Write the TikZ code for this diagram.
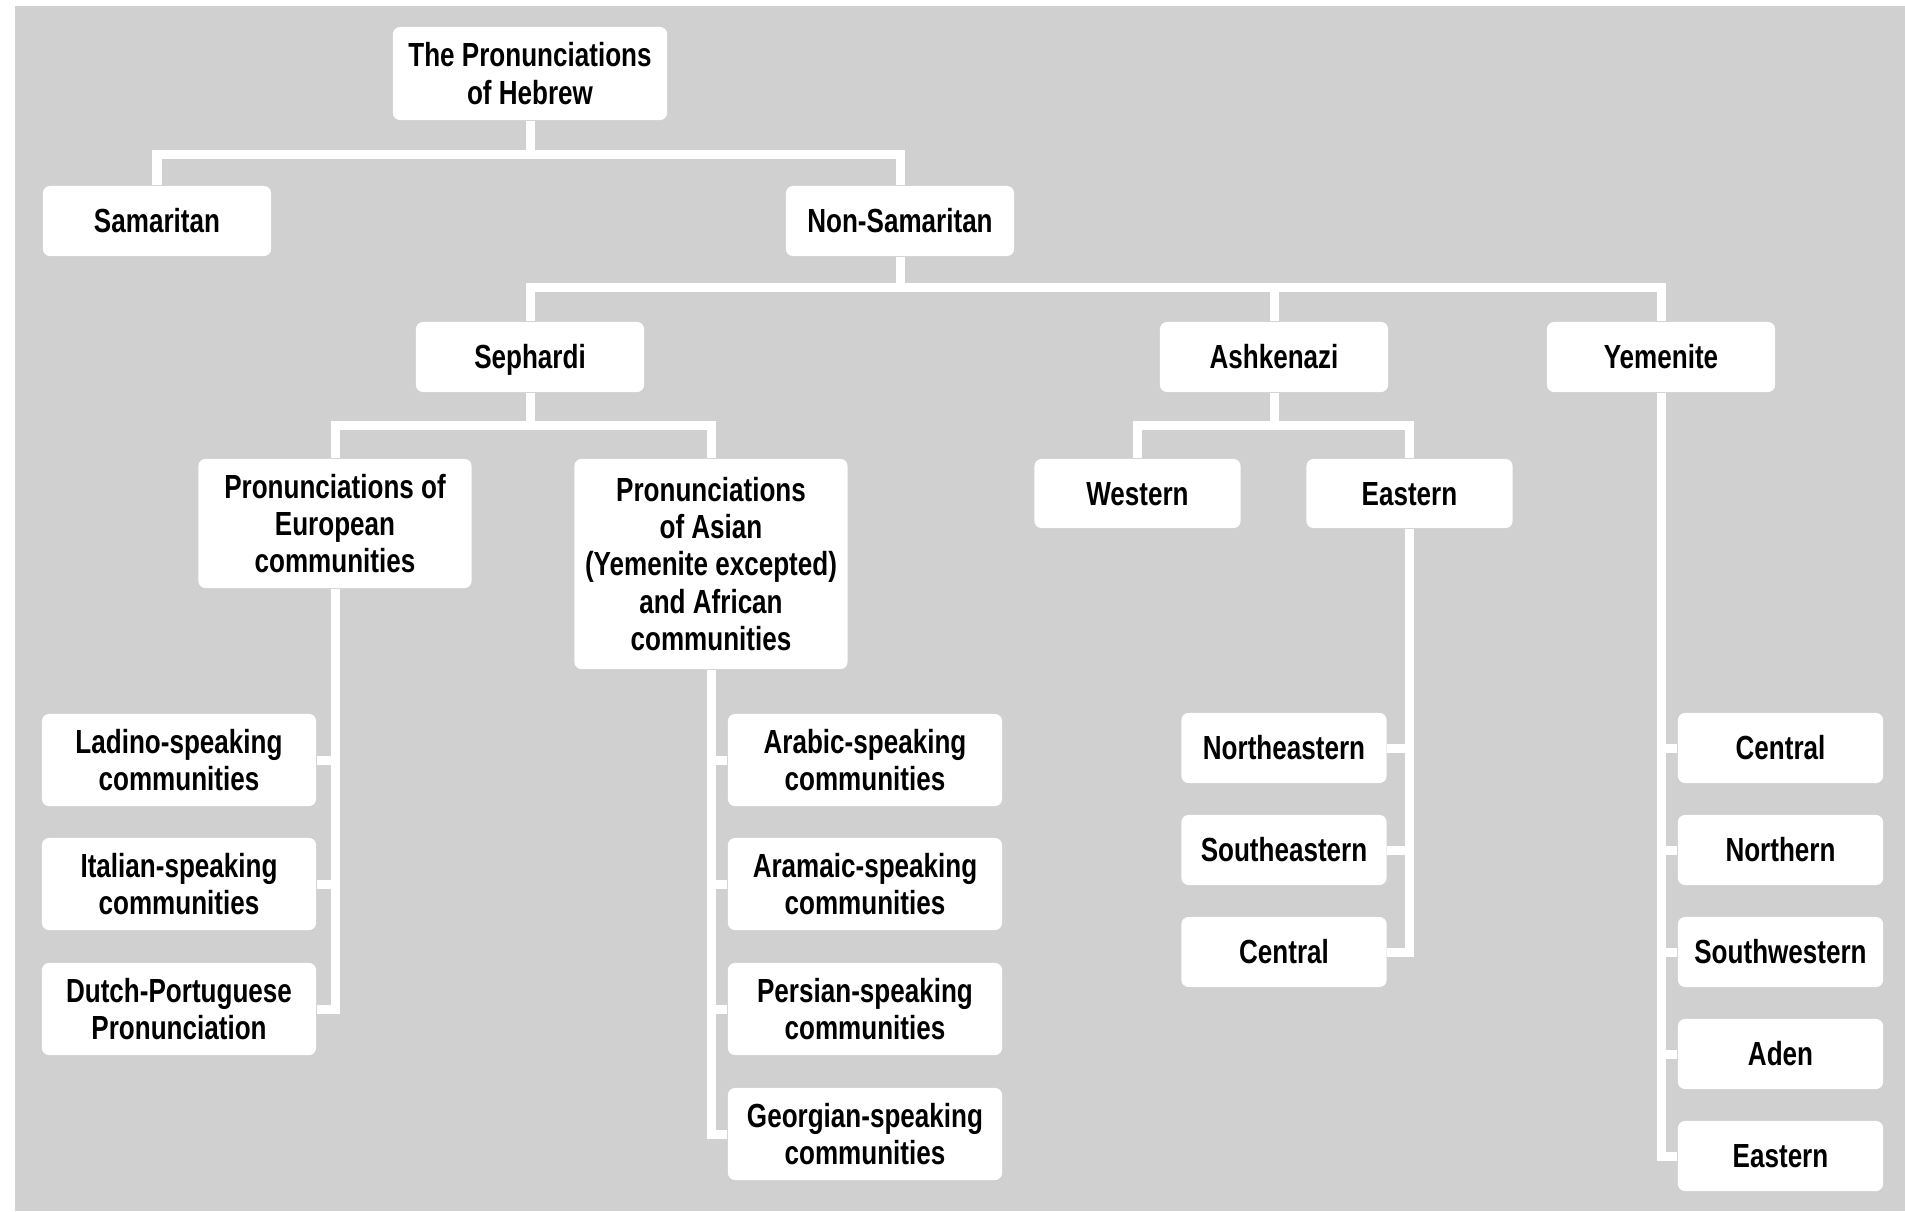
\documentclass[tikz,border=0pt]{standalone}
\usepackage{fontspec}
\setmainfont[FakeStretch=0.78]{Liberation Sans}
\usetikzlibrary{arrows,shapes,calc,positioning}
\definecolor{bggray}{HTML}{D0D0D0}

\begin{document}
\begin{tikzpicture}[x=0.01cm,y=-0.01cm]
		\tikzset{
			box/.style={fill=white, rounded corners=0.07cm, align=center, inner sep=0pt,
				font=\fontsize{9.5}{10.6}\selectfont\bfseries},
			one/.style={text height=6.8pt, text depth=0pt},
			top/.style={box, minimum width=2.74cm, minimum height=0.93cm},
			lvl/.style={box, one, minimum width=2.28cm, minimum height=0.70cm},
			grp/.style={box, minimum width=2.73cm},
			sub/.style={box, one, minimum width=2.06cm, minimum height=0.69cm},
			leaf/.style={box, minimum width=2.74cm, minimum height=0.92cm},
			small/.style={box, one, minimum width=2.05cm, minimum height=0.70cm},
			link/.style={draw=white, line width=0.09cm},
		}
		\useasboundingbox (0,0) rectangle (1905,1211);
		\fill [bggray] (15,6) rectangle (1905,1211);
		% levels
		\node [top] (root) at (530,73.5) {The Pronunciations\\of Hebrew};
		\node [lvl] (sam) at (157,221) {Samaritan};
		\node [lvl] (nonsam) at (900,221) {Non-Samaritan};
		\node [lvl] (seph) at (530,357) {Sephardi};
		\node [lvl] (ashk) at (1274,357) {Ashkenazi};
		\node [lvl] (yem) at (1661,357) {Yemenite};
		\node [grp, minimum height=1.29cm] (euro) at (335,523.5) {Pronunciations of\\European\\communities};
		\node [grp, minimum height=2.10cm] (asian) at (711,564) {Pronunciations\\of Asian\\(Yemenite excepted)\\and African\\communities};
		\node [sub] (west) at (1137.5,493.5) {Western};
		\node [sub] (east) at (1409.5,493.5) {Eastern};
		% leaves
		\node [leaf] (lad) at (179,760) {Ladino-speaking\\communities};
		\node [leaf] (ita) at (179,884) {Italian-speaking\\communities};
		\node [leaf] (dut) at (179,1009) {Dutch-Portuguese\\Pronunciation};
		\node [leaf] (arab) at (865,760) {Arabic-speaking\\communities};
		\node [leaf] (aram) at (865,884) {Aramaic-speaking\\communities};
		\node [leaf] (pers) at (865,1009) {Persian-speaking\\communities};
		\node [leaf] (geor) at (865,1134) {Georgian-speaking\\communities};
		\node [small] (ne) at (1284,748) {Northeastern};
		\node [small] (se) at (1284,850) {Southeastern};
		\node [small] (ce) at (1284,952) {Central};
		\node [small] (ycen) at (1780.5,748) {Central};
		\node [small] (ynor) at (1780.5,850) {Northern};
		\node [small] (ysw) at (1780.5,952) {Southwestern};
		\node [small] (yad) at (1780.5,1054) {Aden};
		\node [small] (yeas) at (1780.5,1156) {Eastern};
		% connectors
		\coordinate (bus1) at (0,154);
		\coordinate (bus2) at (0,287);
		\coordinate (bus3) at (0,425);
		\draw [link] (root) -- (root |- bus1);
		\draw [link] (sam) |- (bus1 -| nonsam) -- (nonsam);
		\draw [link] (nonsam) -- (nonsam |- bus2);
		\draw [link] (seph) |- (bus2 -| yem) -- (yem);
		\draw [link] (ashk) -- (ashk |- bus2);
		\draw [link] (seph) -- (seph |- bus3);
		\draw [link] (euro) |- (bus3 -| asian) -- (asian);
		\draw [link] (ashk) -- (ashk |- bus3);
		\draw [link] (west) |- (bus3 -| east) -- (east);
		\foreach \c in {lad,ita,dut} \draw [link] (euro) |- (\c);
		\foreach \c in {arab,aram,pers,geor} \draw [link] (asian) |- (\c);
		\foreach \c in {ne,se,ce} \draw [link] (east) |- (\c);
		\foreach \c in {ycen,ynor,ysw,yad,yeas} \draw [link] (yem) |- (\c);
	\end{tikzpicture}
\end{document}
